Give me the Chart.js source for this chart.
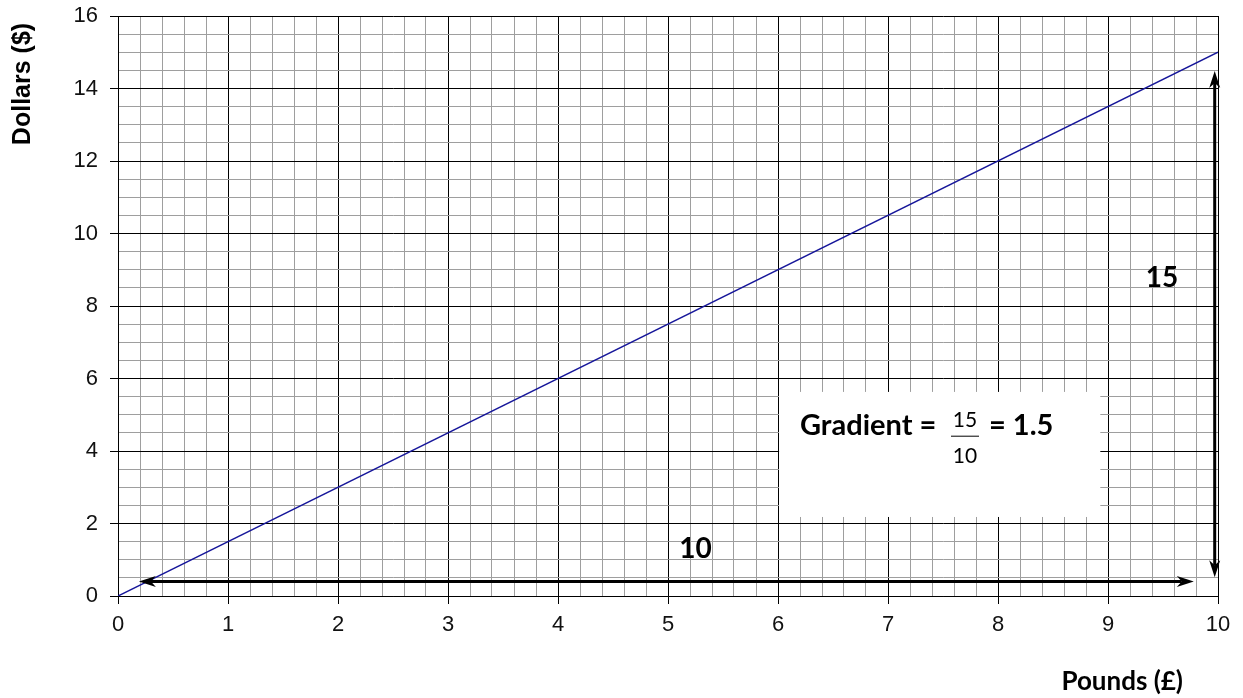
<!DOCTYPE html>
<html>
<head>
<meta charset="utf-8">
<script src="https://cdn.jsdelivr.net/npm/chart.js@4"></script>
<style>
body { margin: 0; background: #fff; }
</style>
</head>
<body>
<canvas id="chart" width="1243" height="698"></canvas>
<script>
// Conversion line: pounds -> dollars
const pounds = [0, 10];
const dollars = [0, 15];

// Axis ranges and grid steps
const xRange = [0, 10];
const yRange = [0, 16];
const xStep = 0.2;
const yStep = 0.5;

// Run / rise arrows (data units)
const runArrowX = [0.19, 9.78];
const runArrowY = [0.4, 0.4];
const riseArrowX = [9.97, 9.97];
const riseArrowY = [0.52, 14.48];

// Annotation texts
const runLabel = '10';
const riseLabel = '15';
const gradientParts = ['Gradient =', '15', '10', '= 1.5'];
const xTitle = 'Pounds (£)';
const yTitle = 'Dollars ($)';

const near = (v, n) => Math.abs(v - n) < 1e-6;
const isInt = v => near(v, Math.round(v));
const xMajor = v => isInt(v);
const yMajor = v => isInt(v) && Math.round(v) % 2 === 0;

const tickFont = { family: '"Liberation Sans", Arial, sans-serif', size: 22 };
const calibri = '"Lato", "Open Sans", sans-serif';

function arrowHead(ctx, x, y, angle) {
    ctx.save();
    ctx.translate(x, y);
    ctx.rotate(angle);
    ctx.beginPath();
    ctx.moveTo(0, 0);
    ctx.lineTo(-17, -5.5);
    ctx.lineTo(-12, 0);
    ctx.lineTo(-17, 5.5);
    ctx.closePath();
    ctx.fill();
    ctx.restore();
}

function doubleArrow(ctx, x1, y1, x2, y2) {
    const a = Math.atan2(y2 - y1, x2 - x1);
    const dx = Math.cos(a) * 12, dy = Math.sin(a) * 12;
    ctx.beginPath();
    ctx.moveTo(x1 + dx, y1 + dy);
    ctx.lineTo(x2 - dx, y2 - dy);
    ctx.stroke();
    arrowHead(ctx, x2, y2, a);
    arrowHead(ctx, x1, y1, a + Math.PI);
}

const annotations = {
    id: 'annotations',
    afterDatasetsDraw(chart) {
        const { ctx } = chart;
        const xs = chart.scales.x, ys = chart.scales.y;
        const px = v => xs.getPixelForValue(v);
        const py = v => ys.getPixelForValue(v);
        ctx.save();

        // white box behind the gradient text
        ctx.fillStyle = '#fff';
        ctx.fillRect(px(6.01), py(5.63), px(8.93) - px(6.01), py(2.18) - py(5.63));

        // arrows
        ctx.strokeStyle = '#000';
        ctx.fillStyle = '#000';
        ctx.lineWidth = 3;
        doubleArrow(ctx, px(runArrowX[0]), py(runArrowY[0]), px(runArrowX[1]), py(runArrowY[1]));
        doubleArrow(ctx, px(riseArrowX[0]), py(riseArrowY[0]), px(riseArrowX[1]), py(riseArrowY[1]));

        // run / rise labels
        ctx.font = 'bold 28px ' + calibri;
        ctx.textAlign = 'center';
        ctx.textBaseline = 'middle';
        ctx.fillText(runLabel, px(5.25), py(1.3));
        ctx.fillText(riseLabel, px(9.49), py(8.77));

        // gradient formula
        const gx = px(6.2), gy = py(4.45);
        ctx.textAlign = 'left';
        ctx.textBaseline = 'alphabetic';
        ctx.font = 'bold 29px ' + calibri;
        ctx.fillText(gradientParts[0], gx, gy);
        const fx = gx + 165;
        ctx.font = '21px ' + calibri;
        ctx.textAlign = 'center';
        ctx.fillText(gradientParts[1], fx, gy - 8);
        ctx.fillText(gradientParts[2], fx, gy + 28);
        ctx.lineWidth = 1;
        ctx.beginPath();
        ctx.moveTo(fx - 14, gy + 1.5);
        ctx.lineTo(fx + 14, gy + 1.5);
        ctx.stroke();
        ctx.font = 'bold 29px ' + calibri;
        ctx.textAlign = 'left';
        ctx.fillText(gradientParts[3], fx + 24, gy);

        // axis titles
        ctx.font = 'bold 26px ' + calibri;
        ctx.textAlign = 'right';
        ctx.fillText(xTitle, 1183, 690);

        ctx.save();
        ctx.translate(23, 84);
        ctx.rotate(-Math.PI / 2);
        ctx.font = 'bold 25px "Liberation Sans", Arial, sans-serif';
        ctx.textAlign = 'center';
        ctx.textBaseline = 'middle';
        ctx.fillText(yTitle, 0, 0);
        ctx.restore();

        ctx.restore();
    }
};

new Chart(document.getElementById('chart'), {
    type: 'scatter',
    data: {
        datasets: [{
            data: pounds.map((p, i) => ({ x: p, y: dollars[i] })),
            showLine: true,
            borderColor: '#16169a',
            borderWidth: 1.5,
            pointRadius: 0,
            pointHoverRadius: 0
        }]
    },
    options: {
        responsive: false,
        animation: false,
        events: [],
        layout: { padding: { left: 0, right: 25, top: 16, bottom: 0 } },
        plugins: { legend: { display: false }, tooltip: { enabled: false } },
        scales: {
            x: {
                type: 'linear',
                min: xRange[0],
                max: xRange[1],
                afterFit: scale => {
                    scale.height = 102;
                    scale.paddingLeft = 0;
                    scale.paddingRight = 0;
                },
                border: { color: '#000', width: 1 },
                grid: {
                    color: c => xMajor(c.tick.value) ? '#000' : '#9e9e9e',
                    tickColor: c => xMajor(c.tick.value) ? '#000' : 'rgba(0,0,0,0)',
                    tickLength: 8,
                    lineWidth: 1
                },
                ticks: {
                    stepSize: xStep,
                    autoSkip: false,
                    maxRotation: 0,
                    padding: 8,
                    color: '#111',
                    font: tickFont,
                    callback: v => xMajor(v) ? String(Math.round(v)) : ''
                }
            },
            y: {
                type: 'linear',
                min: yRange[0],
                max: yRange[1],
                afterFit: scale => {
                    scale.width = 118;
                    scale.paddingTop = 0;
                    scale.paddingBottom = 0;
                },
                border: { color: '#000', width: 1 },
                grid: {
                    color: c => yMajor(c.tick.value) ? '#000' : '#9e9e9e',
                    tickColor: c => yMajor(c.tick.value) ? '#000' : 'rgba(0,0,0,0)',
                    tickLength: 8,
                    lineWidth: 1
                },
                ticks: {
                    stepSize: yStep,
                    autoSkip: false,
                    padding: 12,
                    color: '#111',
                    font: tickFont,
                    callback: v => yMajor(v) ? String(Math.round(v)) : ''
                }
            }
        }
    },
    plugins: [annotations]
});
</script>
</body>
</html>
